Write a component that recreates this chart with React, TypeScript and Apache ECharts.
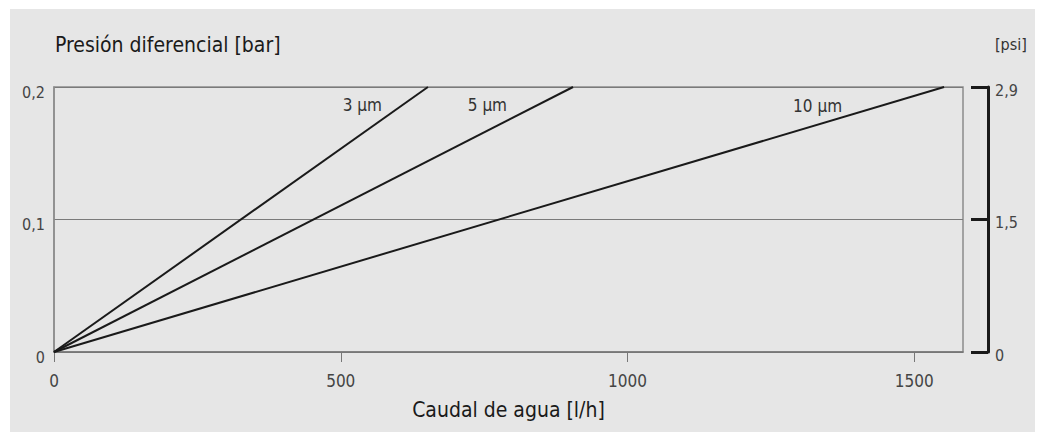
import React, { useEffect, useRef } from "react";
import * as echarts from "echarts";

const seriesNames = ["3 µm", "5 µm", "10 µm"];
const flowAtMax = [652, 905, 1552]; // l/h at 0.2 bar
const pressureStart = 0;
const pressureEnd = 0.2;
const barTickLabels = ["0", "0,1", "0,2"];
const psiTickLabels = ["0", "1,5", "2,9"];
const flowTicks = ["0", "500", "1000", "1500"];

const FONT = "'Liberation Sans Narrow', 'DejaVu Sans Condensed', 'Arial Narrow', sans-serif";
const labelOffsets: number[][] = [[-54, 18], [-74, 18], [-110, 19]];

export default function App() {
  const ref = useRef<HTMLDivElement>(null);
  useEffect(() => {
    if (!ref.current) return;
    const chart = echarts.init(ref.current, undefined, { renderer: "svg" });
    const idx = (v: number, arr: string[], step: number) => arr[Math.round(v / step)] ?? "";
    const richLbl = { t: { padding: [10, 0, 0, 0], fontSize: 16, color: "#444", fontFamily: FONT } };
    chart.setOption({
      animation: false,
      backgroundColor: "#ffffff",
      textStyle: { fontFamily: FONT },
      graphic: [
        { type: "rect", z: -10, silent: true, shape: { x: 10, y: 9, width: 1025, height: 423 }, style: { fill: "#e6e6e6" } },
        { type: "text", left: 55, top: 34, style: { text: "Presión diferencial [bar]", font: `21px ${FONT}`, fill: "#1a1a1a" } },
        { type: "text", left: 995, top: 36, style: { text: "[psi]", font: `16px ${FONT}`, fill: "#333" } },
      ],
      grid: { left: 54, top: 87, right: 86, bottom: 80, show: true, borderColor: "#8c8c8c", borderWidth: 1.5, backgroundColor: "transparent" },
      xAxis: {
        type: "value",
        min: 0,
        max: 1585,
        interval: 500,
        name: "Caudal de agua [l/h]",
        nameLocation: "middle",
        nameGap: 47,
        nameTextStyle: { fontSize: 21, color: "#1a1a1a", fontFamily: FONT },
        axisLine: { show: true, lineStyle: { color: "#777", width: 1.5 } },
        axisTick: { show: true, length: 10, lineStyle: { color: "#777" } },
        axisLabel: { margin: 20, fontSize: 17, color: "#444", formatter: (v: number) => idx(v, flowTicks, 500), showMaxLabel: false },
        splitLine: { show: false },
      },
      yAxis: [
        {
          type: "value",
          min: 0,
          max: 0.2,
          interval: 0.1,
          axisLine: { show: true, lineStyle: { color: "#8c8c8c", width: 1.5 } },
          axisTick: { show: false },
          axisLabel: { margin: 9, rich: richLbl, formatter: (v: number) => `{t|${idx(v, barTickLabels, 0.1)}}` },
          splitLine: { show: true, lineStyle: { color: "#7a7a7a", width: 1 } },
        },
        {
          type: "value",
          position: "right",
          offset: 25,
          min: 0,
          max: 0.2,
          interval: 0.1,
          axisLine: { show: true, lineStyle: { color: "#1a1a1a", width: 3 } },
          axisTick: { show: true, inside: true, length: 17, lineStyle: { color: "#1a1a1a", width: 3 } },
          axisLabel: { margin: 7, rich: { t: { ...richLbl.t, padding: [6, 0, 0, 0] } }, formatter: (v: number) => `{t|${idx(v, psiTickLabels, 0.1)}}` },
          splitLine: { show: false },
        },
      ],
      series: seriesNames.map((name, i) => ({
        type: "line",
        name,
        showSymbol: false,
        symbol: "none",
        lineStyle: { color: "#1a1a1a", width: 2 },
        endLabel: {
          show: true,
          formatter: name,
          align: "right",
          verticalAlign: "middle",
          offset: labelOffsets[i],
          fontSize: 17,
          color: "#333",
          fontFamily: FONT,
        },
        data: [
          [0, pressureStart],
          [flowAtMax[i], pressureEnd],
        ],
      })),
    });
    return () => chart.dispose();
  }, []);
  return <div ref={ref} style={{ position: "absolute", left: 0, top: 0, width: 1049, height: 432 }} />;
}
